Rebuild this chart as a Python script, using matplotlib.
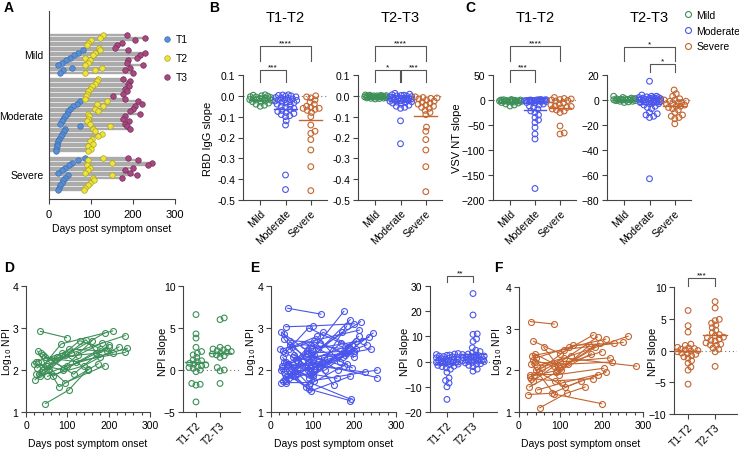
import numpy as np
import matplotlib
matplotlib.use('Agg')
import matplotlib.pyplot as plt
import matplotlib.transforms as mtrans
from matplotlib.ticker import MultipleLocator
from matplotlib.lines import Line2D

plt.rcParams['font.family'] = ['Liberation Sans', 'DejaVu Sans']
plt.rcParams['font.size'] = 7.5
plt.rcParams['axes.linewidth'] = 0.8
plt.rcParams['axes.edgecolor'] = '#444444'
plt.rcParams['xtick.color'] = '#444444'
plt.rcParams['ytick.color'] = '#444444'
plt.rcParams['xtick.labelcolor'] = 'black'
plt.rcParams['ytick.labelcolor'] = 'black'

nan = np.nan

# ---- panel A: days of each visit, one entry per patient (top to bottom)
mild_t1 = [nan, nan, nan, nan, nan, nan, 81, 69, 60, 50, 40, 31, 21, 55, 33, 26]
mild_t2 = [128, 121, 100, 93, 90, 118, 121, 110, 104, 86, 98, 92, 86, 126, 110, 86]
mild_t3 = [186, 229, 205, 174, 162, 157, 188, 229, 217, 210, 188, 186, 224, 193, 181, 200]
mod_t1 = [nan] * 9 + [74, 66, 57, 50, 46, 43, 38, 33, 31, 26, 74, 38, 35, 31, 28, 24, 21, 19, 18, 17, 16]
mod_t2 = [117, 114, 110, 102, 98, 93, 90, 88, 86, 138, 114, 129, 110, 117, 93, 95, 93, 90, 98, 145,
          105, 110, 126, 117, 102, 98, 105, 93, 100, 92]
mod_t3 = [176, 193, 188, 190, 181, 186, 176, 152, 181, 212, 221, 205, 200, 193, 217, 181, 176, 190,
          181, 186, 193] + [nan] * 9
sev_t1 = [86, 69, 55, 48, 38, 31, 21, 45, 38, 33, 30, 26, 23, 21]
sev_t2 = [129, 93, 150, 90, 98, 93, 86, 150, 105, 108, 98, 93, 86, 83]
sev_t3 = [188, 212, 245, 236, 200, 181, 193, 210, 174] + [nan] * 5
groups = ['Mild', 'Moderate', 'Severe']

# ---- panel B: RBD IgG slopes
b12_mild = [0.005, 0.003, 0.0, -0.002, -0.004, -0.006, -0.008, -0.01, -0.012, -0.013, -0.015,
            -0.017, -0.02, -0.022, -0.025, -0.028, -0.03, -0.035, -0.04, -0.045, -0.05, -0.018]
b12_mod = [0.005, 0.004, 0.002, 0.0, -0.002, -0.005, -0.008, -0.01, -0.012, -0.015, -0.018, -0.02,
           -0.022, -0.025, -0.028, -0.03, -0.033, -0.035, -0.04, -0.045, -0.05, -0.055, -0.06,
           -0.065, -0.07, -0.075, -0.08, -0.085, -0.09, -0.095, -0.1, -0.12, -0.14, -0.38, -0.45]
b12_sev = [0.0, -0.005, -0.01, -0.02, -0.03, -0.04, -0.05, -0.055, -0.06, -0.06, -0.065, -0.07,
           -0.08, -0.1, -0.14, -0.17, -0.18, -0.21, -0.26, -0.34, -0.455]
b23_mild = [0.004, 0.003, 0.002, 0.001, 0.0, 0.0, -0.001, -0.002, -0.003, -0.004, -0.005, -0.005,
            -0.006, -0.007, -0.008, -0.009, -0.01, -0.011, -0.012, -0.013, -0.015, -0.002, -0.004]
b23_mod = [0.012, 0.008, 0.005, 0.003, 0.002, 0.0, -0.002, -0.004, -0.006, -0.008, -0.01, -0.011,
           -0.012, -0.013, -0.014, -0.015, -0.016, -0.018, -0.02, -0.022, -0.024, -0.026, -0.028,
           -0.03, -0.032, -0.035, -0.04, -0.045, -0.05, -0.055, -0.06, -0.12, -0.23, -0.015, -0.02]
b23_sev = [-0.005, -0.008, -0.01, -0.012, -0.015, -0.02, -0.025, -0.03, -0.035, -0.04, -0.045,
           -0.05, -0.055, -0.06, -0.07, -0.08, -0.09, -0.15, -0.17, -0.21, -0.26, -0.34, -0.46]

# ---- panel C: VSV NT slopes
c12_mild = [1, 0.5, 0, 0, -0.5, -1, -1, -1.5, -2, -2, -2.5, -3, -3, -4, -4, -5, -6, -8, -10, -12, -1, -2]
c12_mod = [1, 0.5, 0, 0, -0.5, -1, -1, -1.5, -2, -2, -3, -3, -4, -5, -6, -8, -10, -12, -15, -18,
           -22, -25, -30, -35, -40, -45, -55, -68, -78, -177, 0, -0.5, -1, 0.5, -1.5]
c12_sev = [5, 2, 0, -2, -5, -8, -10, -12, -13, -15, -16, -18, -20, -22, -25, -52, -66, -68, 3, 1, -1]
c23_mild = [3, 2, 1.5, 1, 1, 0.5, 0.5, 0, 0, 0, -0.5, -0.5, -1, -1, -1.5, -2, 0.8, 0.2, -0.3, 1.2]
c23_mod = [15, 4, 3, 2, 2, 1.5, 1, 1, 0.5, 0, 0, 0, -0.5, -1, -1, -1.5, -2, -2, -3, -3, -4, -5, -6,
           -7, -10, -11, -12, -13, -14, -63, 3, 2.5, 1, 0, -0.5, 2, 1.5, 0.5]
c23_sev = [8, 5, 3, 1, 0, -1, -2, -3, -3, -4, -5, -5, -6, -7, -8, -10, -12, -13, -14, -15, -19, -2, 0, -1]

# ---- panels D-F: log10 NPI per patient at T1/T2/T3 (days, value)
d_d1 = [35, 47, 22, 25, 28, 30, 40, 20, 33, 45, 50, 27, 38, 60, 55, 24, 42, 31, 36, 52]
d_v1 = [2.92, 1.2, 1.77, 1.9, 2.45, 2.2, 2.0, 2.15, 1.85, 2.3, 2.1, 2.05, 1.95, 2.25, 2.0, 2.2, 2.35, 1.9, 2.4, 1.85]
d_d2 = [98, 103, 95, 85, 80, 65, 110, 90, 100, 120, 95, 105, 130, 125, 145, 88, 115, 75, 92, 140]
d_v2 = [2.77, 1.52, 2.35, 2.62, 1.6, 1.85, 2.4, 2.0, 2.1, 2.2, 1.7, 2.5, 2.7, 2.35, 2.72, 2.4, 1.9, 2.3, 2.05, 2.1]
d_d3 = [nan, 150, 190, 210, 175, 180, 240, 200, 245, 240, 190, 195, 210, 185, 180, 150, 200, 170, 160, 225]
d_v3 = [nan, 2.02, 2.88, 2.93, 2.15, 2.5, 2.82, 2.55, 2.52, 2.42, 2.1, 2.45, 2.4, 2.65, 2.3, 2.0, 2.6, 2.4, 2.7, 2.55]

e_d1 = [40, 25, 30, 35, 45, 28, 50, 32, 22, 38, 55, 42, 27, 60, 33, 48, 36, 24, 44, 52,
        30, 26, 58, 34, 41, 29, 46, 37, 62, 23, 31, 53, 39, 47, 35, 43, 28, 56, 33, 65]
e_v1 = [3.47, 2.9, 2.85, 3.03, 2.6, 2.45, 2.55, 2.2, 2.5, 2.15, 2.35, 2.0, 2.1, 2.25, 1.9, 2.05, 1.75, 1.7, 1.8, 2.3,
        1.95, 2.05, 1.85, 2.4, 2.15, 1.75, 2.7, 2.2, 1.9, 2.0, 2.75, 1.85, 2.1, 1.95, 1.68, 2.5, 2.3, 2.05, 1.78, 2.2]
e_d2 = [120, 95, 88, 100, 85, 105, 110, 92, 80, 98, 115, 90, 102, 125, 96, 108, 87, 93, 130, 100,
        84, 97, 112, 90, 104, 99, 118, 94, 106, 86, 101, 95, 122, 89, 97, 103, 91, 128, 94, 100]
e_v2 = [3.33, 2.4, 2.2, 3.05, 2.3, 2.0, 2.8, 1.8, 2.6, 2.5, 2.1, 1.55, 2.35, 2.9, 1.9, 2.15, 2.45, 1.7, 2.0, 2.25,
        1.6, 2.05, 2.5, 3.0, 1.75, 2.3, 2.65, 1.95, 2.1, 2.4, 1.85, 1.5, 2.2, 2.0, 2.6, 2.7, 1.65, 2.3, 2.1, 1.9]
e_d3 = [nan, 175, 190, 200, 180, 195, 165, 210, 185, 220, 150, 190, 170, 205, 178, 255, 160, 192, 245, 235,
        182, 200, 215, 188, 255, 175, 198, 168, 225, 185, 205, 190, 230, 172, 195, 212, 183, 240, 200, 158]
e_v3 = [nan, 3.4, 3.2, 3.1, 2.4, 2.6, 2.2, 2.8, 2.5, 2.7, 1.65, 1.27, 2.9, 2.5, 2.35, 1.82, 2.0, 1.3, 2.88, 2.78,
        3.05, 2.45, 3.15, 2.55, 2.0, 2.1, 2.3, 2.65, 1.95, 2.45, 2.7, 1.85, 2.6, 2.3, 2.05, 2.95, 2.15, 2.5, 2.4, 1.8]

f_d1 = [28, 35, 38, 32, 25, 42, 30, 45, 22, 50, 36, 27, 40, 33, 48, 55, 30, 44, 26, 38, 60, 35]
f_v1 = [3.17, 2.7, 2.4, 2.35, 1.6, 2.3, 2.15, 1.53, 1.42, 1.1, 1.9, 1.85, 2.0, 2.25, 1.95, 2.05, 1.8, 2.1, 1.9, 2.2, 2.55, 1.75]
f_d2 = [85, 100, 95, 110, 90, 120, 85, 105, 80, 115, 98, 92, 125, 100, 112, 130, 88, 108, 96, 118, 102, 85]
f_v2 = [3.11, 2.4, 2.1, 2.5, 1.95, 2.55, 1.43, 1.7, 1.45, 1.45, 2.2, 2.0, 2.35, 2.05, 1.6, 2.6, 1.75, 2.3, 1.9, 2.15, 2.0, 2.1]
f_d3 = [nan, 180, 200, 252, 175, 210, 200, 190, 150, 160, 220, 185, 264, 195, 210, 230, 180, 284, 205, 225, 170, 190]
f_v3 = [nan, 2.85, 2.45, 2.67, 2.4, 2.75, 1.2, 1.9, 1.75, 1.6, 2.3, 2.55, 2.82, 2.65, 1.95, 2.65, 1.8, 2.1, 2.05, 2.2, 2.6, 2.8]

# NPI slopes
d_s12 = [6.6, 4.3, 3.8, 2.7, 2.2, 2.0, 1.8, 1.5, 1.2, 1.0, 0.8, 0.6, 0.5, 0.3, 0.2, 0.0, -0.2, -1.6, -1.8, -1.7, -3.8, 1.1, 0.7, 0.4]
d_s23 = [6.0, 6.2, 2.7, 2.5, 2.4, 2.3, 2.2, 2.0, 1.9, 1.7, 1.5, 2.6, 0.0, -0.1, 0.3, -1.6, 2.1, 1.8]
e_s12 = [3.2, 3.0, 2.8, 2.5, 2.0, 1.8, 1.5, 1.2, 1.0, 0.8, 0.5, 0.3, 0.1, 0, -0.2, -0.4, -0.5, -0.7, -1.0, -1.2,
         -1.5, -1.8, -2.0, -2.5, -3.0, -4.2, -6.5, -7.5, -8.5, -10, -15, 0.6, -0.3, 1.4, 2.2, 2.6, 1.9]
e_s23 = [27, 18.5, 11, 10.8, 9, 8, 5.5, 4.5, 4, 3.5, 3, 2.8, 2.5, 2.2, 2, 1.8, 1.5, 1.2, 1, 0.8, 0.5, 0.3, 0,
         -0.5, -1, -1.5, -2, -3, -3.8, 1.3, 0.7, 2.4, 1.6, 0.2, -0.3, 1.9, 0.4, 0.6, -0.8, 0.1]
f_s12 = [6.3, 3.9, 2.9, 1.0, 0.8, 0.5, 0.3, 0.2, 0.1, 0.0, -0.1, -0.2, -0.4, -0.5, -0.6, -0.8, -1.0, -1.2, -1.6, -2.0, -2.6, -3.1, -5.3, 0.4]
f_s23 = [7.7, 6.7, 4.9, 4.7, 4.3, 4.0, 3.6, 3.2, 2.5, 2.3, 2.1, 2.0, 1.8, 1.6, 1.2, 1.0, 0.8, 0.4, 0.2, -0.2, -2.5, 2.8, 1.5, 0.9]

GREEN = '#3d8f58'
BLUE = '#4a55ec'
ORANGE = '#c4642e'
colors = [GREEN, BLUE, ORANGE]

W, H = 739, 452
fig = plt.figure(figsize=(W / 100, H / 100), dpi=100)


def box(l, r, t, b):
    return fig.add_axes([l / W, 1 - b / H, (r - l) / W, (b - t) / H])


def clean(ax):
    ax.spines['top'].set_visible(False)
    ax.spines['right'].set_visible(False)
    ax.tick_params(length=3.5, width=0.8, pad=2)


def swarm(ax, xc, vals, d=4.2, maxw=11.0):
    # pixel-space beeswarm, capped width, overlapping when crowded
    vals = np.asarray(vals, float)
    pix = ax.transData.transform(np.column_stack([np.full(len(vals), xc), vals]))
    x0 = pix[0, 0]
    ys = pix[:, 1]
    xs = np.full(len(vals), x0)
    done = []
    nstep = int(2 * maxw / 0.7) + 1
    for i in np.argsort(ys):
        best, bestd = 0.0, -1.0
        for k in range(nstep):
            off = (k + 1) // 2 * 0.7 * (1 if k % 2 else -1)
            md = min([np.hypot(x0 + off - px, ys[i] - py) for px, py in done] or [99])
            if md >= d:
                best = off
                break
            if md > bestd:
                best, bestd = off, md
        xs[i] = x0 + best
        done.append((xs[i], ys[i]))
    return ax.transData.inverted().transform(np.column_stack([xs, ys]))[:, 0]


def bracket(ax, x1, x2, y, leg, txt):
    tr = mtrans.blended_transform_factory(ax.transData, ax.transAxes)
    ax.plot([x1, x1, x2, x2], [leg, y, y, leg], color='#555555', lw=0.8, transform=tr, clip_on=False)
    ax.text((x1 + x2) / 2, y - 0.005, txt, transform=tr, ha='center', va='bottom', fontsize=6)


def dots(ax, sets, cols, labels, ylim, yticks, xlim, ylabfmt=None):
    clean(ax)
    ax.set_xlim(*xlim)
    ax.set_ylim(*ylim)
    ax.set_yticks(yticks)
    if ylabfmt:
        ax.set_yticklabels([ylabfmt(v) for v in yticks])
    ax.set_xticks(range(len(sets)))
    ax.set_xticklabels(labels, rotation=45, ha='right', rotation_mode='anchor', fontsize=7.5)
    ax.axhline(0, color='#777777', lw=0.8, ls=(0, (1, 2.5)), zorder=0)
    for i, (v, c) in enumerate(zip(sets, cols)):
        xs = swarm(ax, i, v)
        ax.scatter(xs, v, s=17, facecolors='none', edgecolors=c, linewidths=0.8, zorder=3, clip_on=False)
        ax.plot([i - 0.45, i + 0.45], [np.mean(v)] * 2, color=c, lw=1.0, zorder=4)


def traj(ax, days, vals, col):
    clean(ax)
    for p in range(len(days[0])):
        x = np.array([days[0][p], days[1][p], days[2][p]], float)
        y = np.array([vals[0][p], vals[1][p], vals[2][p]], float)
        m = ~np.isnan(x)
        ax.plot(x[m], y[m], '-o', color=col, lw=0.8, ms=4.3, mfc='none', mew=0.8, clip_on=False)
    ax.set_xlim(0, 300)
    ax.set_ylim(1, 4)
    ax.set_xticks([0, 100, 200, 300])
    ax.set_yticks([1, 2, 3, 4])
    ax.xaxis.set_minor_locator(MultipleLocator(20))
    ax.tick_params(which='minor', length=2.5, width=0.8)
    ax.set_xlabel('Days post symptom onset', fontsize=7.5, labelpad=6)


def flab(x, y, s, **kw):
    fig.text(x / W, 1 - y / H, s, **kw)


# ================= A
axA = box(49, 175, 12, 200)
axA.spines['top'].set_visible(False)
axA.spines['right'].set_visible(False)
y0 = 9.6
centers = []
for t1, t2, t3 in [(mild_t1, mild_t2, mild_t3), (mod_t1, mod_t2, mod_t3), (sev_t1, sev_t2, sev_t3)]:
    t = np.array([t1, t2, t3], float)
    ys = y0 + np.arange(t.shape[1])
    axA.hlines(ys, 0, np.nanmax(t, axis=0), color='#ababab', lw=1.7, zorder=1)
    centers.append(ys.mean())
    y0 = ys[-1] + 2.5
    for k, (fc, ec) in enumerate([('#5b8fd3', '#3c6eb3'), ('#eee43c', '#a9a226'), ('#a54a80', '#7b2d5c')]):
        axA.scatter(t[k], ys, s=16, c=fc, edgecolors=ec, linewidths=0.5, zorder=3,
                    label=['T1', 'T2', 'T3'][k] if len(centers) == 1 else None)
axA.set_xlim(0, 300)
axA.set_ylim(75.2, 0)
axA.set_xticks([0, 100, 200, 300])
axA.set_yticks(centers)
axA.set_yticklabels(groups, fontsize=7.5)
axA.tick_params(axis='y', length=0, pad=4)
axA.tick_params(axis='x', length=3.5, width=0.8, labelsize=8)
axA.set_xlabel('Days post symptom onset', fontsize=7.5, labelpad=3)
fig.legend(*axA.get_legend_handles_labels(), loc='upper left', bbox_to_anchor=(164 / W, 1 - 35 / H),
           frameon=False, fontsize=7.5, handlelength=0.6, handletextpad=0.5, labelspacing=0.85,
           borderpad=0, borderaxespad=0, scatterpoints=1)

# ================= B
xl = (-0.68, 2.64)
axB1 = box(243, 327, 76, 201)
dots(axB1, [b12_mild, b12_mod, b12_sev], colors, groups, (-0.5, 0.1),
     [0.1, 0.0, -0.1, -0.2, -0.3, -0.4, -0.5], xl, lambda v: '%.1f' % v)
axB2 = box(358, 442, 76, 201)
dots(axB2, [b23_mild, b23_mod, b23_sev], colors, groups, (-0.5, 0.1),
     [0.1, 0.0, -0.1, -0.2, -0.3, -0.4, -0.5], xl, lambda v: '%.1f' % v)
bracket(axB1, 0, 1, 1.04, 0.944, '***')
bracket(axB1, 0, 2, 1.232, 1.112, '****')
bracket(axB2, 0, 0.97, 1.04, 0.944, '*')
bracket(axB2, 1.03, 2, 1.04, 0.944, '***')
bracket(axB2, 0, 2, 1.232, 1.112, '****')

# ================= C
axC1 = box(493, 576, 76, 201)
dots(axC1, [c12_mild, c12_mod, c12_sev], colors, groups, (-200, 50),
     [50, 0, -50, -100, -150, -200], xl)
axC2 = box(607, 691, 76, 201)
dots(axC2, [c23_mild, c23_mod, c23_sev], colors, groups, (-80, 20),
     [20, 0, -20, -40, -60, -80], xl)
bracket(axC1, 0, 1, 1.04, 0.944, '***')
bracket(axC1, 0, 2, 1.232, 1.112, '****')
bracket(axC2, 0, 2, 1.224, 1.112, '*')
bracket(axC2, 1, 2, 1.088, 1.024, '*')

for cx, txt in [(285, 'T1-T2'), (400, 'T2-T3'), (535, 'T1-T2'), (649, 'T2-T3')]:
    flab(cx, 18, txt, ha='center', va='center', fontsize=10.5)
flab(208, 139, 'RBD IgG slope', rotation=90, ha='center', va='center', fontsize=8)
flab(457, 138, 'VSV NT slope', rotation=90, ha='center', va='center', fontsize=8)
fig.legend([Line2D([], [], ls='none', marker='o', ms=4.3, mfc='none', mec=c, mew=0.8) for c in colors],
           groups, loc='upper left', bbox_to_anchor=(684 / W, 1 - 11 / H), frameon=False, fontsize=7.5,
           handlelength=0.8, handletextpad=0.4, labelspacing=0.55, borderpad=0, borderaxespad=0)

# ================= D, E, F
axD1 = box(26, 150, 287, 413)
traj(axD1, [d_d1, d_d2, d_d3], [d_v1, d_v2, d_v3], GREEN)
axD2 = box(183, 240, 287, 413)
dots(axD2, [d_s12, d_s23], [GREEN, GREEN], ['T1-T2', 'T2-T3'], (-5, 10), [-5, 0, 5, 10], (-0.54, 1.83))

axE1 = box(271, 396, 287, 413)
traj(axE1, [e_d1, e_d2, e_d3], [e_v1, e_v2, e_v3], BLUE)
axE2 = box(430, 497, 287, 413)
dots(axE2, [e_s12, e_s23], [BLUE, BLUE], ['T1-T2', 'T2-T3'], (-20, 30), [-20, -10, 0, 10, 20, 30], (-0.65, 1.92))
bracket(axE2, 0, 1, 1.079, 1.032, '**')

axF1 = box(519, 643, 288, 413)
traj(axF1, [f_d1, f_d2, f_d3], [f_v1, f_v2, f_v3], ORANGE)
axF2 = box(674, 737, 288, 415)
dots(axF2, [f_s12, f_s23], [ORANGE, ORANGE], ['T1-T2', 'T2-T3'], (-10, 10), [-10, -5, 0, 5, 10], (-0.52, 1.81))
bracket(axF2, 0, 1, 1.071, 1.008, '***')

for x in [7, 251, 497]:
    flab(x, 352, 'Log$_{10}$ NPI', rotation=90, ha='center', va='center', fontsize=7.5)
for x in [163, 405, 653]:
    flab(x, 352, 'NPI slope', rotation=90, ha='center', va='center', fontsize=8)

for x, y, s in [(4, 8, 'A'), (209, 8, 'B'), (465, 8, 'C'), (4, 268, 'D'), (250, 268, 'E'), (494, 268, 'F')]:
    flab(x, y, s, ha='left', va='center', fontsize=10, fontweight='bold')

fig.savefig('out.png', dpi=100)
